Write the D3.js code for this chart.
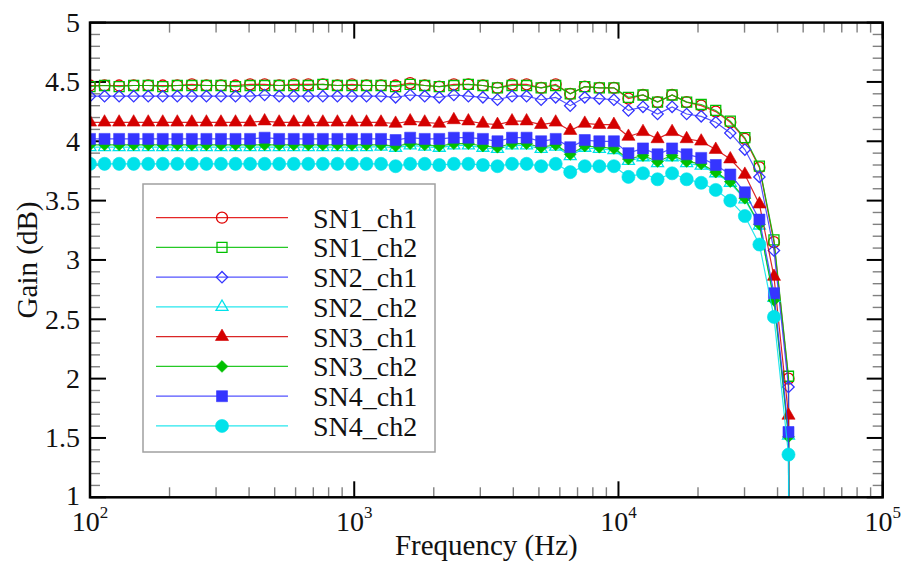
<!DOCTYPE html>
<meta charset="utf-8">
<style>
    body { margin: 0; background: #fff; }
    text { font-family: "Times New Roman", "Liberation Serif", serif; fill: #111; }
</style>
<body>
<script src="https://cdn.jsdelivr.net/npm/d3@7/dist/d3.min.js"></script>
<script>

    var width = 903;
    var height = 561;

    // measured frequencies (Hz); the last one is the point that falls off the chart
    var freqs = [100, 113.5, 128.9, 146.3, 166.1, 188.5, 214, 242.9, 275.8, 313.1,
        355.4, 403.5, 458, 519.9, 590.3, 670.1, 760.7, 863.6, 980.2, 1113,
        1263, 1434, 1628, 1848, 2098, 2382, 2704, 3069, 3484, 3955,
        4490, 5097, 5786, 6568, 7456, 8464, 9609, 10908, 12383, 14057,
        15958, 18115, 20564, 23344, 26500, 30083, 34150, 38767, 44000, 48000];

    var sn1_ch1 = [4.47, 4.47, 4.47, 4.47, 4.47, 4.47, 4.47, 4.48, 4.47, 4.47,
        4.47, 4.48, 4.48, 4.47, 4.48, 4.48, 4.48, 4.47, 4.48, 4.47,
        4.47, 4.47, 4.49, 4.47, 4.46, 4.48, 4.48, 4.47, 4.45, 4.48,
        4.48, 4.45, 4.48, 4.40, 4.46, 4.45, 4.45, 4.36, 4.39, 4.33,
        4.39, 4.33, 4.30, 4.25, 4.16, 4.02, 3.78, 3.15, 2.00, -40];
    var sn1_ch2 = [4.46, 4.47, 4.46, 4.47, 4.47, 4.46, 4.47, 4.47, 4.47, 4.47,
        4.46, 4.47, 4.47, 4.47, 4.47, 4.47, 4.48, 4.47, 4.47, 4.47,
        4.47, 4.46, 4.48, 4.47, 4.46, 4.47, 4.48, 4.47, 4.45, 4.47,
        4.47, 4.45, 4.47, 4.40, 4.46, 4.45, 4.45, 4.37, 4.39, 4.33,
        4.39, 4.33, 4.31, 4.26, 4.17, 4.03, 3.79, 3.17, 2.02, -40];
    var sn2_ch1 = [4.38, 4.38, 4.38, 4.38, 4.38, 4.38, 4.38, 4.38, 4.38, 4.38,
        4.38, 4.38, 4.39, 4.38, 4.38, 4.38, 4.38, 4.38, 4.38, 4.38,
        4.38, 4.37, 4.39, 4.38, 4.37, 4.39, 4.38, 4.37, 4.35, 4.38,
        4.38, 4.35, 4.37, 4.30, 4.37, 4.36, 4.35, 4.26, 4.29, 4.23,
        4.29, 4.23, 4.21, 4.16, 4.07, 3.93, 3.70, 3.08, 1.93, -40];
    var sn2_ch2 = [3.95, 3.95, 3.95, 3.95, 3.95, 3.95, 3.95, 3.95, 3.95, 3.95,
        3.95, 3.95, 3.95, 3.95, 3.95, 3.95, 3.95, 3.95, 3.95, 3.95,
        3.955, 3.945, 3.965, 3.955, 3.945, 3.965, 3.965, 3.945, 3.935, 3.965,
        3.965, 3.935, 3.955, 3.875, 3.945, 3.935, 3.925, 3.835, 3.865, 3.815,
        3.865, 3.815, 3.795, 3.73, 3.65, 3.51, 3.29, 2.68, 1.52, -40];
    var sn3_ch1 = [4.16, 4.16, 4.16, 4.16, 4.16, 4.16, 4.16, 4.16, 4.16, 4.16,
        4.16, 4.16, 4.17, 4.16, 4.16, 4.16, 4.16, 4.16, 4.16, 4.16,
        4.16, 4.15, 4.17, 4.16, 4.15, 4.18, 4.17, 4.15, 4.14, 4.17,
        4.17, 4.14, 4.16, 4.09, 4.15, 4.14, 4.14, 4.04, 4.08, 4.02,
        4.08, 4.02, 4.00, 3.93, 3.85, 3.72, 3.47, 2.86, 1.69, -40];
    var sn3_ch2 = [3.97, 3.97, 3.97, 3.97, 3.97, 3.97, 3.97, 3.97, 3.97, 3.97,
        3.97, 3.97, 3.97, 3.97, 3.97, 3.97, 3.97, 3.97, 3.97, 3.97,
        3.97, 3.96, 3.98, 3.97, 3.96, 3.98, 3.98, 3.96, 3.95, 3.98,
        3.98, 3.95, 3.97, 3.89, 3.96, 3.95, 3.94, 3.85, 3.88, 3.83,
        3.88, 3.83, 3.81, 3.74, 3.66, 3.52, 3.30, 2.66, 1.51, -40];
    var sn4_ch1 = [4.02, 4.02, 4.02, 4.02, 4.02, 4.02, 4.02, 4.02, 4.02, 4.02,
        4.02, 4.02, 4.03, 4.02, 4.02, 4.02, 4.02, 4.02, 4.02, 4.02,
        4.02, 4.01, 4.03, 4.02, 4.02, 4.03, 4.03, 4.02, 4.00, 4.03,
        4.03, 4.00, 4.02, 3.95, 4.01, 4.00, 4.00, 3.90, 3.94, 3.89,
        3.94, 3.89, 3.86, 3.80, 3.72, 3.57, 3.34, 2.72, 1.55, -40];
    var sn4_ch2 = [3.81, 3.81, 3.81, 3.81, 3.81, 3.81, 3.81, 3.81, 3.81, 3.81,
        3.81, 3.81, 3.81, 3.81, 3.81, 3.81, 3.81, 3.81, 3.81, 3.81,
        3.81, 3.79, 3.81, 3.81, 3.80, 3.81, 3.81, 3.80, 3.79, 3.81,
        3.81, 3.79, 3.81, 3.74, 3.79, 3.79, 3.79, 3.70, 3.73, 3.68,
        3.73, 3.68, 3.65, 3.59, 3.50, 3.37, 3.13, 2.52, 1.36, -40];

    var seriesNames = ["SN1_ch1", "SN1_ch2", "SN2_ch1", "SN2_ch2", "SN3_ch1", "SN3_ch2", "SN4_ch1", "SN4_ch2"];
    var seriesValues = [sn1_ch1, sn1_ch2, sn2_ch1, sn2_ch2, sn3_ch1, sn3_ch2, sn4_ch1, sn4_ch2];

    var yTicks = [1, 1.5, 2, 2.5, 3, 3.5, 4, 4.5, 5];
    var xDecades = [2, 3, 4, 5];

    // look of each series
    var RED = "#e00000", GREEN = "#00c000", BLUE = "#3535ff", CYAN = "#00e2ea";
    var styles = [
        {color: RED, shape: "circle", size: 95, fill: false},
        {color: GREEN, shape: "square", size: 100, fill: false},
        {color: BLUE, shape: "diamond", size: 64, fill: false},
        {color: CYAN, shape: "triangle", size: 62, fill: false},
        {color: "#d40000", shape: "triangle", size: 75, fill: true},
        {color: GREEN, shape: "diamond", size: 70, fill: true},
        {color: BLUE, shape: "square", size: 121, fill: true},
        {color: CYAN, shape: "circle", size: 135, fill: true}
    ];

    var x = d3.scaleLog().domain([100, 1e5]).range([90, 882.7]);
    var y = d3.scaleLinear().domain([1, 5]).range([497.3, 22.6]);

    var svg = d3.select("body").append("svg")
        .attr("width", width)
        .attr("height", height);

    svg.append("defs").append("clipPath").attr("id", "plot")
        .append("rect")
        .attr("x", x.range()[0]).attr("y", y.range()[1])
        .attr("width", x.range()[1] - x.range()[0])
        .attr("height", y.range()[0] - y.range()[1]);

    function symbolPath(st) {
        var type = {circle: d3.symbolCircle, square: d3.symbolSquare,
            diamond: d3.symbolSquare, triangle: d3.symbolTriangle}[st.shape];
        return d3.symbol().type(type).size(st.size)();
    }

    function drawMarker(g, st, px, py) {
        var t = "translate(" + px + "," + py + ")" + (st.shape === "diamond" ? " rotate(45)" : "");
        g.append("path")
            .attr("d", symbolPath(st))
            .attr("transform", t)
            .attr("fill", st.fill ? st.color : "none")
            .attr("stroke", st.color)
            .attr("stroke-width", st.fill ? 0.6 : 1.3);
    }

    /////////////////////////////////
    // TICKS
    /////////////////////////////////

    var axes = svg.append("g");
    var minorY = d3.range(10, 51).map(function (d) { return d / 10; })
        .filter(function (d) { return yTicks.indexOf(d) < 0; });
    var minorX = [];
    xDecades.slice(0, 3).forEach(function (e) {
        for (var m = 2; m <= 9; m++) minorX.push(m * Math.pow(10, e));
    });

    minorY.forEach(function (v) {
        [[x.range()[0], 10], [x.range()[1], -10]].forEach(function (s) {
            axes.append("line").attr("x1", s[0]).attr("x2", s[0] + s[1])
                .attr("y1", y(v)).attr("y2", y(v))
                .attr("stroke", "#808080").attr("stroke-width", 1.4);
        });
    });
    yTicks.forEach(function (v) {
        [[x.range()[0], 16], [x.range()[1], -16]].forEach(function (s) {
            axes.append("line").attr("x1", s[0]).attr("x2", s[0] + s[1])
                .attr("y1", y(v)).attr("y2", y(v))
                .attr("stroke", "#000").attr("stroke-width", 2);
        });
    });
    minorX.forEach(function (v) {
        [[y.range()[0], -10], [y.range()[1], 10]].forEach(function (s) {
            axes.append("line").attr("x1", x(v)).attr("x2", x(v))
                .attr("y1", s[0]).attr("y2", s[0] + s[1])
                .attr("stroke", "#808080").attr("stroke-width", 1.4);
        });
    });
    xDecades.forEach(function (e) {
        var v = Math.pow(10, e);
        [[y.range()[0], -16], [y.range()[1], 16]].forEach(function (s) {
            axes.append("line").attr("x1", x(v)).attr("x2", x(v))
                .attr("y1", s[0]).attr("y2", s[0] + s[1])
                .attr("stroke", "#000").attr("stroke-width", 2);
        });
    });

    /////////////////////////////////
    // SERIES
    /////////////////////////////////

    var plot = svg.append("g").attr("clip-path", "url(#plot)");
    var line = d3.line()
        .x(function (d) { return x(d[0]); })
        .y(function (d) { return y(d[1]); });

    seriesValues.forEach(function (vals, k) {
        var st = styles[k];
        var pts = freqs.map(function (f, i) { return [f, vals[i]]; });
        var g = plot.append("g");
        g.append("path")
            .attr("d", line(pts))
            .attr("fill", "none")
            .attr("stroke", st.color)
            .attr("stroke-width", 1.2)
            .attr("stroke-opacity", 0.85);
        pts.forEach(function (p) {
            if (p[1] >= 1) drawMarker(g, st, x(p[0]), y(p[1]));
        });
    });

    // frame
    svg.append("rect")
        .attr("x", x.range()[0]).attr("y", y.range()[1])
        .attr("width", x.range()[1] - x.range()[0])
        .attr("height", y.range()[0] - y.range()[1])
        .attr("fill", "none").attr("stroke", "#000").attr("stroke-width", 2.5);

    /////////////////////////////////
    // LABELS
    /////////////////////////////////

    yTicks.forEach(function (v) {
        svg.append("text")
            .attr("x", 80).attr("y", y(v) + (v === 1 ? 8 : 9.5))
            .attr("text-anchor", "end")
            .style("font-size", "28px")
            .text(d3.format("~g")(v));
    });

    xDecades.forEach(function (e) {
        var t = svg.append("text")
            .attr("x", x(Math.pow(10, e))).attr("y", 531)
            .attr("text-anchor", "middle")
            .style("font-size", "28px");
        t.append("tspan").text("10");
        t.append("tspan").attr("dy", -13).style("font-size", "17px").text(e);
    });

    svg.append("text")
        .attr("x", (x.range()[0] + x.range()[1]) / 2).attr("y", 555)
        .attr("text-anchor", "middle")
        .style("font-size", "29px")
        .text("Frequency (Hz)");

    svg.append("text")
        .attr("transform", "translate(37,260) rotate(-90)")
        .attr("text-anchor", "middle")
        .style("font-size", "29px")
        .text("Gain (dB)");

    /////////////////////////////////
    // LEGEND
    /////////////////////////////////

    var legend = svg.append("g");
    legend.append("rect")
        .attr("x", 143).attr("y", 184).attr("width", 292).attr("height", 268)
        .attr("fill", "#fff").attr("stroke", "#a0a0a0").attr("stroke-width", 1.5);

    seriesNames.forEach(function (name, k) {
        var st = styles[k];
        var ry = 217.7 + k * 29.75;
        legend.append("line")
            .attr("x1", 156).attr("x2", 288).attr("y1", ry).attr("y2", ry)
            .attr("stroke", st.color).attr("stroke-width", 1.2).attr("stroke-opacity", 0.85);
        drawMarker(legend, st, 222, ry);
        legend.append("text")
            .attr("x", 313).attr("y", ry + 10)
            .style("font-size", "28px")
            .text(name);
    });

</script>
</body>
</html>
